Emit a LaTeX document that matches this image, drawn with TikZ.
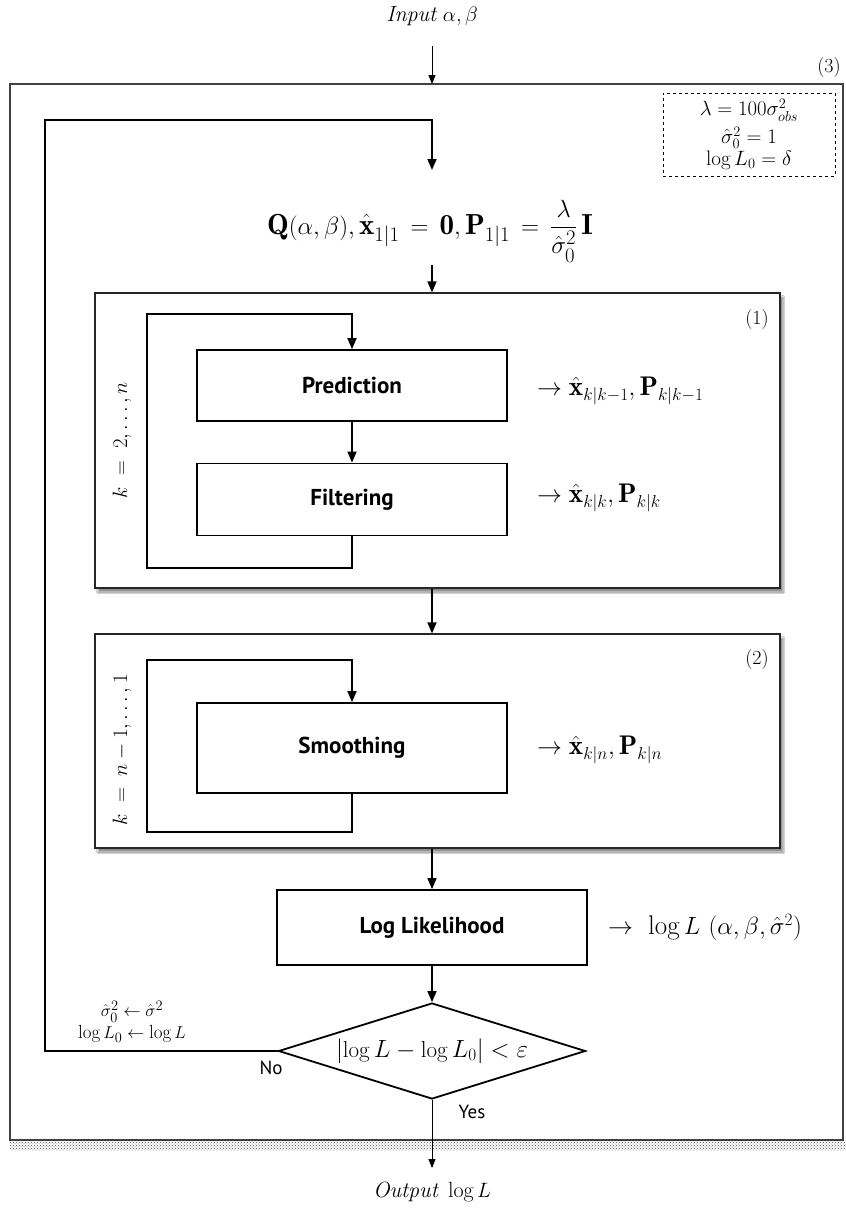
\documentclass[tikz,border=0pt]{standalone}
\usepackage{amsmath}
\usepackage{fontspec}
\setsansfont{PT Sans}
\usetikzlibrary{arrows.meta,shapes.geometric,shadows.blur,patterns}

\newcommand{\fs}[1]{\fontsize{#1}{#1}\selectfont}

\tikzset{
  procbox/.style={draw, line width=1.8pt, minimum width=310pt, inner sep=0pt,
                  font=\sffamily\bfseries\fs{23}},
  stagebox/.style={draw=black!85, line width=1.2pt, fill=white,
                   blur shadow={shadow xshift=3pt, shadow yshift=-4pt,
                                shadow blur steps=6, shadow opacity=45}},
  flow/.style={line width=1.5pt, -{Triangle[length=11pt,width=9pt]}},
  loopline/.style={line width=1.8pt, -{Triangle[length=11pt,width=9pt]}},
  thinflow/.style={line width=0.8pt, -{Triangle[length=9pt,width=7pt]}},
  outlabel/.style={anchor=west, inner sep=0pt, font=\fs{27}},
  tag/.style={inner sep=0pt, font=\fs{20}},
}

\begin{document}
\begin{tikzpicture}[x=1pt, y=-1pt]
  \useasboundingbox (0,0) rectangle (846,1213);
  \coordinate (axis) at (432,0);

  % outer frame (3) with its dotted shadow strip
  \fill[pattern=crosshatch dots, pattern color=black!70] (10,1141) rectangle (846,1150);
  \draw[black!75, line width=1.3pt, fill=white] (10,84) rectangle (843,1140);
  \node[tag] (t3) at (829,68) {(3)};

  % input / output
  \node[inner sep=0pt, font=\fs{22}] (inp) at (432,16) {$\mathit{Input}\ \alpha,\beta$};
  \coordinate (inend) at (432,84);
  \coordinate (instart) at (432,46);
  \draw[thinflow] (instart) -- (inend);

  % initial values box
  \node[draw, dashed, line width=0.8pt, minimum width=172pt, minimum height=83pt,
        inner sep=0pt, align=center, font=\fs{21}] (init) at (749,134.5)
        {$\lambda = 100\sigma^2_{obs}$\\[4pt] $\hat{\sigma}^2_0 = 1$\\[1pt] $\log L_0 = \delta$};

  % initialisation formula
  \node[inner sep=0pt, font=\fs{29}] (q) at (430,231)
    {$\mathbf{Q}(\alpha,\beta), \hat{\mathbf{x}}_{1|1} \,=\, \mathbf{0}, \mathbf{P}_{1|1} \,=\, \dfrac{\lambda}{\hat{\sigma}^2_0}\,\mathbf{I}$};
  \coordinate (qin) at (432,170);
  \coordinate (qout) at (432,265);

  % stage (1): prediction / filtering loop
  \node[stagebox, minimum width=685pt, minimum height=295pt, inner sep=0pt] (s1) at (437.5,440.5) {};
  \node[tag] (t1) at (757,320) {(1)};
  \node[procbox, minimum height=71pt] (pred) at (352,385.5) {Prediction};
  \node[procbox, minimum height=72pt] (filt) at (352,499.5) {Filtering};
  \coordinate (l1b) at (147,568);
  \coordinate (l1t) at (147,314);
  \draw[loopline] (filt.south) |- (l1b) -- (l1t) -| (pred.north);
  \draw[flow] (pred) -- (filt);
  \node[rotate=90, inner sep=0pt, font=\fs{20}] (k1) at (122,440) {$k \;=\; 2, \dots, n$};
  \node[outlabel] (o1) at (537,391) {$\rightarrow \hat{\mathbf{x}}_{k|k-1}, \mathbf{P}_{k|k-1}$};
  \node[outlabel] (o2) at (537,498) {$\rightarrow \hat{\mathbf{x}}_{k|k}, \mathbf{P}_{k|k}$};

  % stage (2): smoothing loop
  \node[stagebox, minimum width=685pt, minimum height=214pt, inner sep=0pt] (s2) at (437.5,741) {};
  \node[tag] (t2) at (757,660) {(2)};
  \node[procbox, minimum height=90pt] (smo) at (352,748) {Smoothing};
  \coordinate (l2b) at (147,832);
  \coordinate (l2t) at (147,660);
  \draw[loopline] (smo.south) |- (l2b) -- (l2t) -| (smo.north);
  \node[rotate=90, inner sep=0pt, font=\fs{20}] (k2) at (122,750) {$k \;=\; n-1, \dots, 1$};
  \node[outlabel] (o3) at (537,750) {$\rightarrow \hat{\mathbf{x}}_{k|n}, \mathbf{P}_{k|n}$};

  % log likelihood
  \node[procbox, minimum height=75pt] (ll) at (432,927.5) {Log Likelihood};
  \node[outlabel, font=\fs{27}] (o4) at (608,928) {$\rightarrow\ \log L\ (\alpha,\beta,\hat{\sigma}^2)$};

  % convergence test
  \node[draw, diamond, aspect=3.2, line width=1.8pt, minimum width=307pt, minimum height=96pt,
        inner sep=0pt] (dec) at (432,1051) {};
  \node[inner sep=0pt, font=\fs{23}] (dect) at (dec.center) {$\lvert\log L - \log L_0\rvert < \varepsilon$};
  \node[inner sep=0pt, font=\sffamily\fs{19}] (no) at (271,1068) {No};
  \node[inner sep=0pt, font=\sffamily\fs{19}] (yes) at (472,1112) {Yes};
  \node[inner sep=0pt, align=center, font=\fs{19}] (upd) at (132,1022)
        {$\hat{\sigma}^2_0 \leftarrow \hat{\sigma}^2$\\[3pt] $\log L_0 \leftarrow \log L$};

  % outer loop back to initialisation
  \coordinate (lob) at (45,1051);
  \coordinate (lot) at (45,120);
  \draw[loopline] (dec.west) -- (lob) -- (lot) -| (qin);

  % main flow
  \draw[flow] (qout) -- (s1.north -| axis);
  \draw[flow] (s1.south -| axis) -- (s2.north -| axis);
  \draw[flow] (s2.south -| axis) -- (ll.north);
  \draw[flow] (ll.south) -- (dec.north);

  \coordinate (outend) at (432,1168);
  \draw[thinflow] (dec.south) -- (outend);
  \node[inner sep=0pt, font=\fs{22}] (outp) at (432,1192) {$\mathit{Output}\ \log L$};
\end{tikzpicture}
\end{document}
